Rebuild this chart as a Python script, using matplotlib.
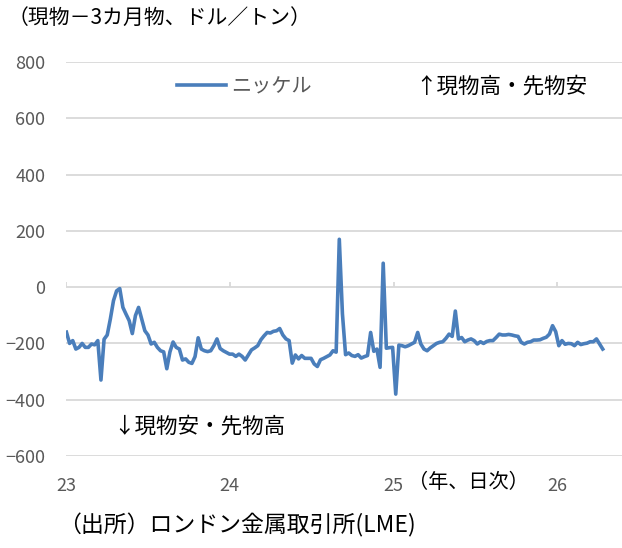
import matplotlib
matplotlib.use("Agg")
import pandas as pd
import matplotlib.pyplot as plt
import matplotlib.dates as mdates

plt.rcParams['font.family'] = ['Noto Sans CJK JP', 'DejaVu Sans']

# nickel cash - 3 month spread, USD/t, weekly readings from the chart
nickel = [
    -160, -200, -190, -220, -214, -200, -214, -214, -202, -205,
    -190, -330, -185, -170, -113, -48, -13, -5, -72, -96,
    -119, -165, -101, -72, -113, -155, -170, -202, -196, -214,
    -226, -230, -290, -230, -195, -214, -220, -259, -255, -267,
    -271, -247, -180, -220, -226, -229, -226, -208, -184, -218,
    -226, -232, -238, -238, -246, -238, -246, -259, -241, -223,
    -216, -208, -187, -173, -161, -163, -157, -155, -147, -170,
    -184, -190, -270, -241, -255, -243, -253, -253, -253, -273,
    -282, -258, -253, -247, -241, -226, -231, 170, -95, -240,
    -234, -243, -246, -240, -252, -247, -243, -161, -228, -220,
    -285, 85, -217, -215, -214, -380, -206, -208, -212, -208,
    -202, -196, -161, -202, -220, -226, -216, -208, -200, -196,
    -194, -182, -167, -175, -85, -184, -179, -194, -188, -184,
    -190, -202, -194, -200, -193, -190, -190, -179, -167, -170,
    -170, -168, -170, -173, -175, -196, -202, -196, -194, -188,
    -188, -187, -182, -178, -167, -137, -158, -208, -190, -203,
    -200, -201, -208, -196, -204, -201, -199, -194, -194, -184,
    -202, -220,
]
dates = pd.date_range('2023-01-02', periods=len(nickel), freq='7D')

year_ticks = pd.to_datetime(['2023-01-01', '2024-01-01', '2025-01-01', '2026-01-01'])
year_labels = ['23', '24', '25', '26']
y_ticks = [-600, -400, -200, 0, 200, 400, 600, 800]

fig = plt.figure(figsize=(6.22, 5.48), dpi=100)
ax = fig.add_axes([66/622, 92/548, 556/622, 394/548])

ax.plot(dates, nickel, color='#4a7ebb', lw=2.6, label='ニッケル', zorder=3)

ax.set_ylim(-600, 800)
ax.set_xlim(pd.Timestamp('2023-01-01'), pd.Timestamp('2026-05-26'))
ax.set_yticks(y_ticks)
ax.set_xticks(year_ticks)
ax.set_xticklabels(year_labels)
ax.grid(axis='y', color='#d9d9d9', lw=1.3)
ax.set_axisbelow(True)
for s in ax.spines.values():
    s.set_visible(False)
ax.tick_params(axis='y', length=0, pad=15, labelsize=13, labelcolor='#595959')
ax.tick_params(axis='x', length=0, pad=15, labelsize=13, labelcolor='#595959')
# Excel-style tick marks sitting on the zero line
ax.vlines(year_ticks, 0, 18, color='#d9d9d9', lw=1.3, zorder=2)

leg = ax.legend(loc='center left', bbox_to_anchor=(0.2, 0.937), frameon=False,
                borderaxespad=0, borderpad=0, handlelength=2.4, handletextpad=0.3,
                fontsize=14.5)
for t in leg.get_texts():
    t.set_color('#595959')

ax.text(0.628, 0.937, '↑現物高・先物安', transform=ax.transAxes, fontsize=15.5,
        va='center', ha='left', color='black')
ax.text(0.0845, 0.074, '↓現物安・先物高', transform=ax.transAxes, fontsize=15.5,
        va='center', ha='left', color='black')

fig.text(8/622, 1 - 18/548, '（現物－3カ月物、ドル／トン）', fontsize=15,
         va='center', ha='left', color='black')
fig.text(408/622, 1 - 483/548, '（年、日次）', fontsize=14.5, va='center', ha='left',
         color='black')
fig.text(58/622, 1 - 525/548, '（出所）ロンドン金属取引所(LME)', fontsize=16.5,
         va='center', ha='left', color='black')

fig.savefig('out.png', dpi=100)
